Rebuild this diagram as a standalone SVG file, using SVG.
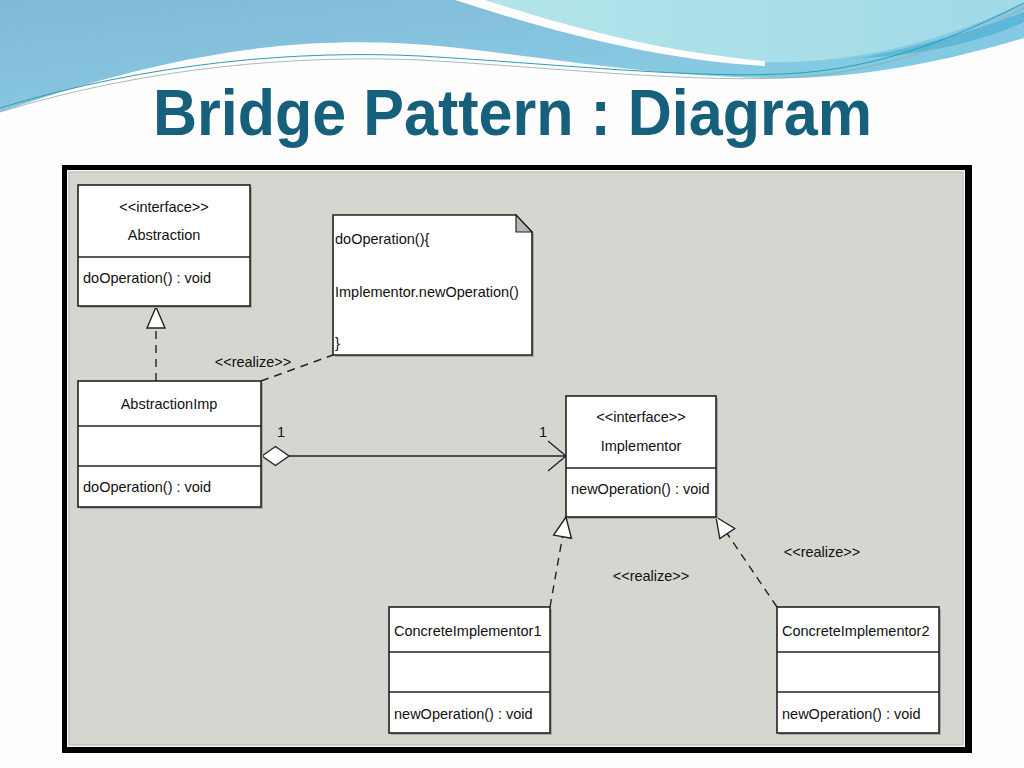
<svg xmlns="http://www.w3.org/2000/svg" width="1024" height="768" viewBox="0 0 1024 768">
<defs>
<linearGradient id="gBlue" x1="0" y1="0" x2="1" y2="1">
<stop offset="0" stop-color="#80b8d6"/>
<stop offset="0.6" stop-color="#88c8e2"/>
<stop offset="1" stop-color="#6ed2e0"/>
</linearGradient>
<linearGradient id="gLight" x1="0" y1="0" x2="1" y2="0">
<stop offset="0" stop-color="#b4e4ea"/>
<stop offset="1" stop-color="#9fdae6"/>
</linearGradient>
<marker id="dummy" markerWidth="1" markerHeight="1"/>
<style>
.t{font-family:"Liberation Sans",Arial,sans-serif;font-size:14.5px;fill:#111}
.c{text-anchor:middle}
.box{fill:#fff;stroke:#222;stroke-width:1.6}
.sh{fill:#a9a9a3}
.div{stroke:#222;stroke-width:1.4}
.dash{fill:none;stroke:#222;stroke-width:1.4;stroke-dasharray:8 6}
.line{fill:none;stroke:#222;stroke-width:1.4}
.tri{fill:#fff;stroke:#222;stroke-width:1.4}
</style>
</defs>
<rect width="1024" height="768" fill="#fdfdfd"/>
<!-- header waves -->
<path d="M0,0 H1024 V38 C950,60 860,80 770,78 C650,76 550,58 450,47 C330,35 200,42 0,112 Z" fill="url(#gBlue)"/>
<path d="M480,0 C560,25 660,52 760,62 C860,66 960,35 1024,2 V0 Z" fill="url(#gLight)"/>
<path d="M455,0 C560,34 660,60 765,66 L765,61 C660,52 565,26 485,0 Z" fill="#fdfdfd"/>
<path d="M860,58 C930,45 990,25 1024,12 V22 C990,38 930,55 860,58 Z" fill="#5ab9da"/>
<path d="M0,108 C150,62 300,50 420,56 C560,64 700,80 800,73 C900,65 980,25 1024,3" fill="none" stroke="#2e9fae" stroke-width="1"/>
<path d="M0,112 C150,66 300,55 420,60 C560,68 700,84 800,77 C900,69 980,32 1024,8" fill="none" stroke="#9aa6aa" stroke-width="0.8"/>
<text x="153" y="135" font-family="Liberation Sans,Arial,sans-serif" font-weight="bold" font-size="65" fill="#17607c" textLength="719" lengthAdjust="spacingAndGlyphs">Bridge Pattern : Diagram</text>
<!-- frame -->
<rect x="62" y="165" width="910" height="588" fill="#000"/>
<rect x="67" y="170" width="898" height="577" fill="#f4f4f0"/>
<rect x="69" y="172" width="894" height="573" fill="#d6d6d0" stroke="#b8b8b2" stroke-width="1"/>
<!-- connectors -->
<g id="connectors">
<line class="dash" x1="156" y1="381" x2="156" y2="328"/>
<polygon class="tri" points="156,307 165,328 147,328"/>
<line class="dash" x1="261" y1="381" x2="333" y2="355"/>
<line class="line" x1="289" y1="456" x2="566" y2="456"/>
<polygon class="tri" points="262,456 275.5,446.5 289,456 275.5,465.5"/>
<polyline class="line" points="548,441 566,456 548,471"/>
<line class="dash" x1="550" y1="607" x2="562.5" y2="536.7"/>
<polygon class="tri" points="566,517 571.4,538.3 553.6,535.1"/>
<line class="dash" x1="777" y1="607" x2="727.2" y2="533.6"/>
<polygon class="tri" points="716,517 734.7,528.5 719.8,538.6"/>
<text class="t" x="281" y="437" text-anchor="middle">1</text>
<text class="t" x="543" y="437" text-anchor="middle">1</text>
<text class="t c" x="253" y="367">&lt;&lt;realize&gt;&gt;</text>
<text class="t c" x="651" y="581">&lt;&lt;realize&gt;&gt;</text>
<text class="t c" x="822" y="557">&lt;&lt;realize&gt;&gt;</text>
</g>
<!-- nodes -->
<g id="abstraction">
<rect class="sh" x="80" y="187" width="172" height="121"/>
<rect class="box" x="78" y="185" width="172" height="121"/>
<line class="div" x1="78" y1="257" x2="250" y2="257"/>
<text class="t c" x="164" y="212">&lt;&lt;interface&gt;&gt;</text>
<text class="t c" x="164" y="240">Abstraction</text>
<text class="t" x="83" y="283">doOperation() : void</text>
</g>
<g id="note">
<path class="sh" d="M335,217 H518 L534,234 V357 H335 Z"/>
<path class="box" d="M333,215 H516 L532,232 V355 H333 Z"/>
<path d="M516,215 V232 H532 Z" fill="#b8b8b8" stroke="#222" stroke-width="1.2"/>
<text class="t" x="335" y="244">doOperation(){</text>
<text class="t" x="335" y="297">Implementor.newOperation()</text>
<text class="t" x="335" y="348">}</text>
</g>
<g id="abstractionImp">
<rect class="sh" x="80" y="383" width="183" height="126"/>
<rect class="box" x="78" y="381" width="183" height="126"/>
<line class="div" x1="78" y1="426" x2="261" y2="426"/>
<line class="div" x1="78" y1="466" x2="261" y2="466"/>
<text class="t c" x="169" y="409">AbstractionImp</text>
<text class="t" x="83" y="492">doOperation() : void</text>
</g>
<g id="implementor">
<rect class="sh" x="568" y="398" width="150" height="121"/>
<rect class="box" x="566" y="396" width="150" height="121"/>
<line class="div" x1="566" y1="468" x2="716" y2="468"/>
<text class="t c" x="641" y="422">&lt;&lt;interface&gt;&gt;</text>
<text class="t c" x="641" y="451">Implementor</text>
<text class="t" x="571" y="494">newOperation() : void</text>
</g>
<g id="concreteImplementor1">
<rect class="sh" x="391" y="609" width="161" height="126"/>
<rect class="box" x="389" y="607" width="161" height="126"/>
<line class="div" x1="389" y1="652" x2="550" y2="652"/>
<line class="div" x1="389" y1="692" x2="550" y2="692"/>
<text class="t" x="394" y="636">ConcreteImplementor1</text>
<text class="t" x="394" y="719">newOperation() : void</text>
</g>
<g id="concreteImplementor2">
<rect class="sh" x="779" y="609" width="162" height="126"/>
<rect class="box" x="777" y="607" width="162" height="126"/>
<line class="div" x1="777" y1="652" x2="939" y2="652"/>
<line class="div" x1="777" y1="692" x2="939" y2="692"/>
<text class="t" x="782" y="636">ConcreteImplementor2</text>
<text class="t" x="782" y="719">newOperation() : void</text>
</g>
</svg>
